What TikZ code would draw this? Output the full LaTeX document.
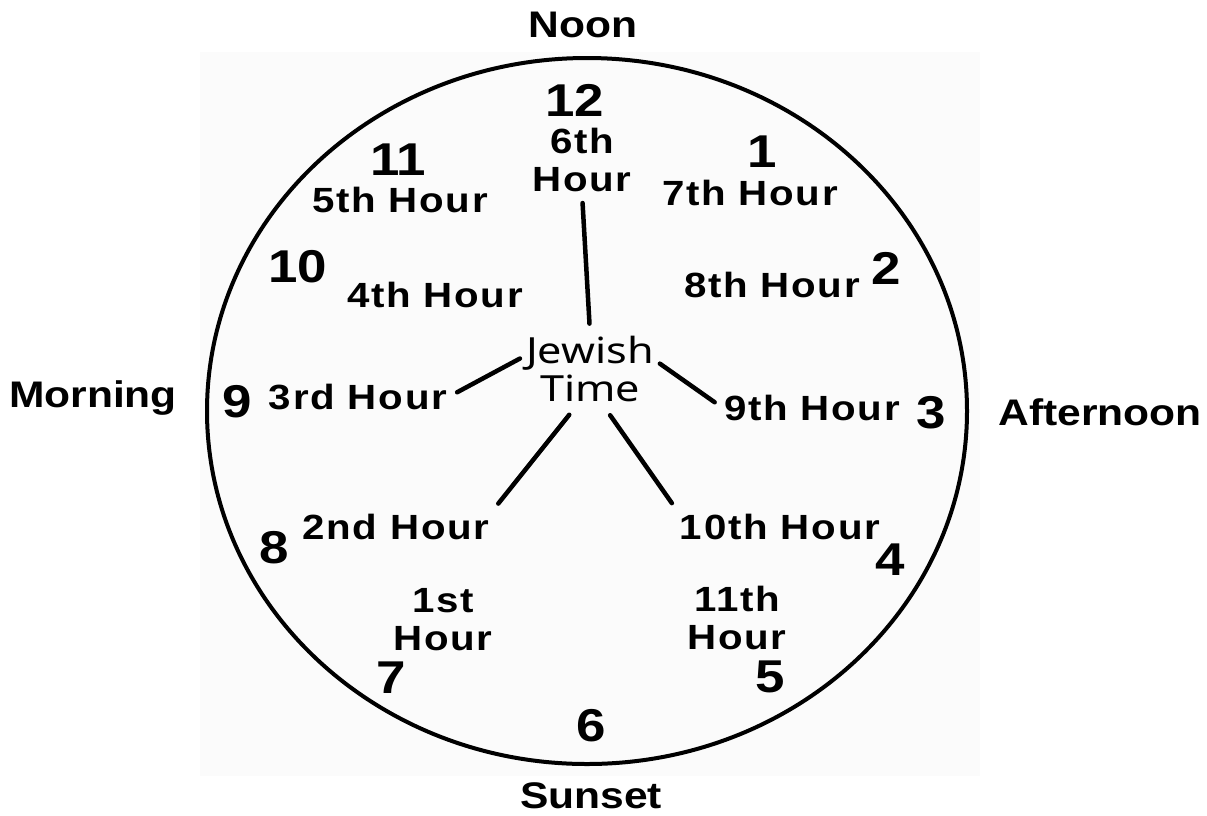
\documentclass[tikz,border=0pt]{standalone}
\usepackage{fontspec}
\setmainfont{Liberation Sans}[FakeStretch=1.15]
\newfontfamily\handfont{Noto Sans}[FakeStretch=1.2]

\tikzset{
  side/.style={font=\bfseries\fontsize{37}{40}\selectfont, inner sep=1pt},
  num/.style={font=\bfseries\fontsize{46}{48}\selectfont, inner sep=1pt},
  hour/.style={font=\bfseries\fontsize{35}{38}\selectfont\addfontfeature{LetterSpace=5},
    align=center, inner sep=1pt},
  hand/.style={font=\handfont\fontsize{36}{38}\selectfont, align=center},
  link/.style={line width=4.5pt, line cap=round},
}

\begin{document}
\begin{tikzpicture}[x=1pt,y=-1pt]
\useasboundingbox (0,0) rectangle (1207,815);
\fill[black!1.5] (200,52) rectangle (980,776);
\draw[line width=4pt] (587,411) ellipse (380 and 353);

% times of day
\node[side] (noon) at (583,25) {Noon};
\node[side] (morning) at (93,398) {Morning};
\node[side] (afternoon) at (1100,412) {Afternoon};
\node[side] (sunset) at (591,796) {Sunset};

% clock numbers
\node[num] (n12) at (575,100) {12};
\node[num] (n1) at (762,152) {1};
\node[num] (n2) at (886,268) {2};
\node[num] (n3) at (931,413) {3};
\node[num] (n4) at (890,560) {4};
\node[num] (n5) at (770,677) {5};
\node[num] (n6) at (591,726) {6};
\node[num] (n7) at (391,678) {7};
\node[num] (n8) at (274,548) {8};
\node[num] (n9) at (237,402) {9};
\node[num] (n10) at (298,267) {10};
\node[num] (n11) at (398,160) {11};

% hours
\node[hour] (h1) at (443,620) {1st\\Hour};
\node[hour] (h2) at (396,527) {2nd Hour};
\node[hour] (h3) at (358,397) {3rd Hour};
\node[hour] (h4) at (435,295) {4th Hour};
\node[hour] (h5) at (400,200) {5th Hour};
\node[hour] (h6) at (582,160) {6th\\Hour};
\node[hour] (h7) at (750,193) {7th Hour};
\node[hour] (h8) at (772,285) {8th Hour};
\node[hour] (h9) at (812,408) {9th Hour};
\node[hour] (h10) at (780,527) {10th Hour};
\node[hour] (h11) at (737,618) {11th\\Hour};

\node[hand] (jt) at (590,369) {Jewish\\Time};

\draw[link, shorten <=9pt, shorten >=10pt] (jt.north) -- (h6.south);
\draw[link, shorten <=3pt, shorten >=10pt] (jt.170) -- (h3.east);
\draw[link, shorten <=3pt, shorten >=10pt] (jt.6) -- (h9.west);
\draw[link, shorten <=12pt, shorten >=12pt] (jt.-110) -- (h2.north east);
\draw[link, shorten <=12pt, shorten >=12pt] (jt.-70) -- (h10.north west);
\end{tikzpicture}
\end{document}
